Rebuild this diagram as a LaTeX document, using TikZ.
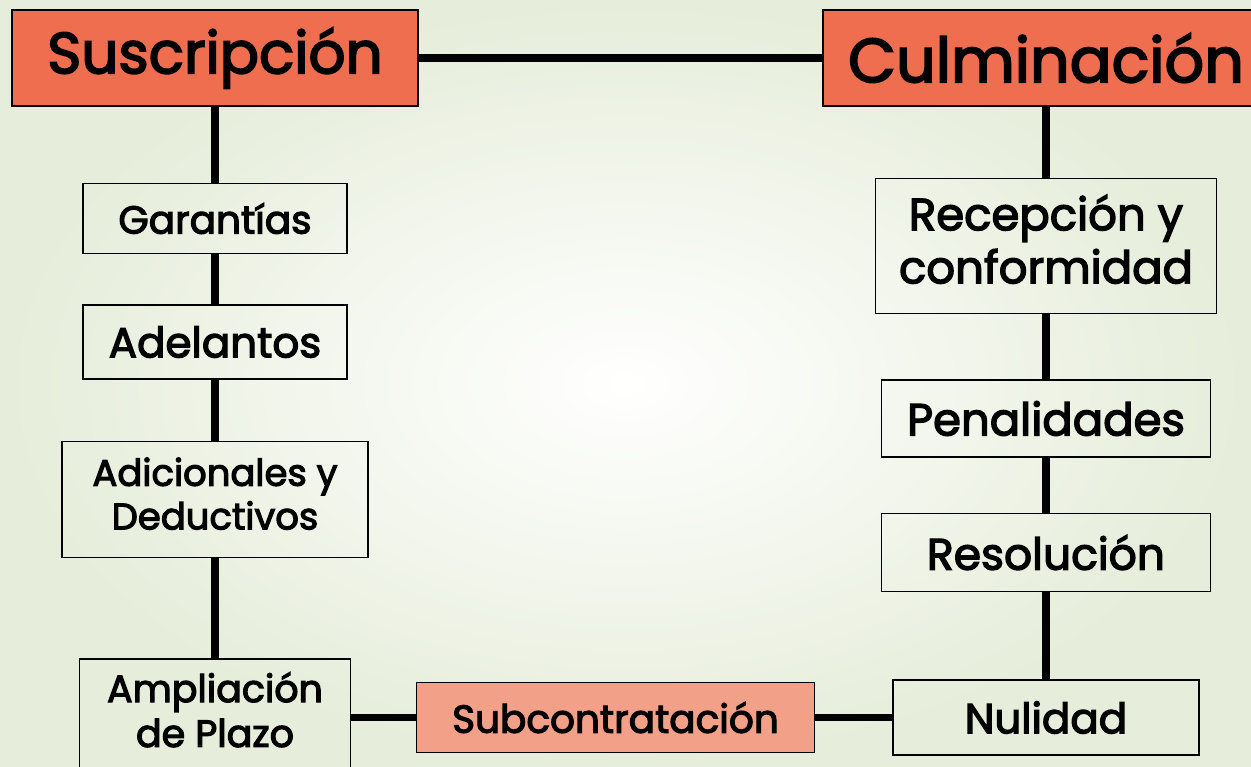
\documentclass[tikz,border=0pt]{standalone}
\usepackage{fontspec}
\setmainfont{Poppins}[FakeBold=3]
\usetikzlibrary{positioning}
\definecolor{headOrange}{RGB}{239,110,80}
\definecolor{subSalmon}{RGB}{243,160,137}
\definecolor{bgGreen}{RGB}{230,237,218}
\tikzset{
    link/.style={line width=7.5pt, black},
    box/.style={draw, line width=1.5pt, inner sep=0pt, align=center},
    head/.style={box, fill=headOrange},
}
\newcommand{\fsz}[1]{\fontsize{#1}{1.18\dimexpr#1pt\relax}\selectfont}

\begin{document}
\begin{tikzpicture}[x=1pt, y=1pt]
    \shade[inner color=white, outer color=bgGreen] (0,0) rectangle (1251,-767);
    \useasboundingbox (0,0) rectangle (1251,-767);

    \node[head, minimum width=406pt, minimum height=96pt, font=\fsz{58}] (sus) at (215,-58) {Suscripción};
    \node[head, minimum width=446pt, minimum height=96pt, font=\fsz{62}] (cul) at (1046,-58) {Culminación};

    % left column
    \node[box, minimum width=264pt, minimum height=70pt, below=76pt of sus, font=\fsz{39}] (gar) {Garantías};
    \node[box, minimum width=264pt, minimum height=74pt, below=50pt of gar, font=\fsz{42}] (ade) {Adelantos};
    \node[box, minimum width=306pt, minimum height=116pt, below=61pt of ade, font=\fsz{37}, text depth=12pt] (adi) {Adicionales y\\Deductivos};
    \node[box, minimum width=271pt, minimum height=137pt, below=100pt of adi, font=\fsz{38}, text depth=36pt] (amp) {Ampliación\\de Plazo};

    % right column
    \node[box, minimum width=341pt, minimum height=135pt, below=71pt of cul, font=\fsz{45}, text depth=14pt] (rec) {Recepción y\\conformidad};
    \node[box, minimum width=329pt, minimum height=77pt, below=65pt of rec, font=\fsz{45}] (pen) {Penalidades};
    \node[box, minimum width=329pt, minimum height=78pt, below=55pt of pen, font=\fsz{44}] (res) {Resolución};
    \node[box, minimum width=306pt, minimum height=75pt, below=87pt of res, font=\fsz{42}] (nul) {Nulidad};

    \node[box, fill=subSalmon, minimum width=398pt, minimum height=70pt, left=77pt of nul, font=\fsz{39}] (sub) {Subcontratación};

    \draw[link] (sus) -- (cul);
    \draw[link] (sus) -- (gar);
    \draw[link] (gar) -- (ade);
    \draw[link] (ade) -- (adi);
    \draw[link] (adi) -- (amp);
    \draw[link] (cul) -- (rec);
    \draw[link] (rec) -- (pen);
    \draw[link] (pen) -- (res);
    \draw[link] (res) -- (nul);
    \draw[link] (nul) -- (sub);
    \draw[link] (sub.west) -- (sub.west -| amp.east);
\end{tikzpicture}
\end{document}
